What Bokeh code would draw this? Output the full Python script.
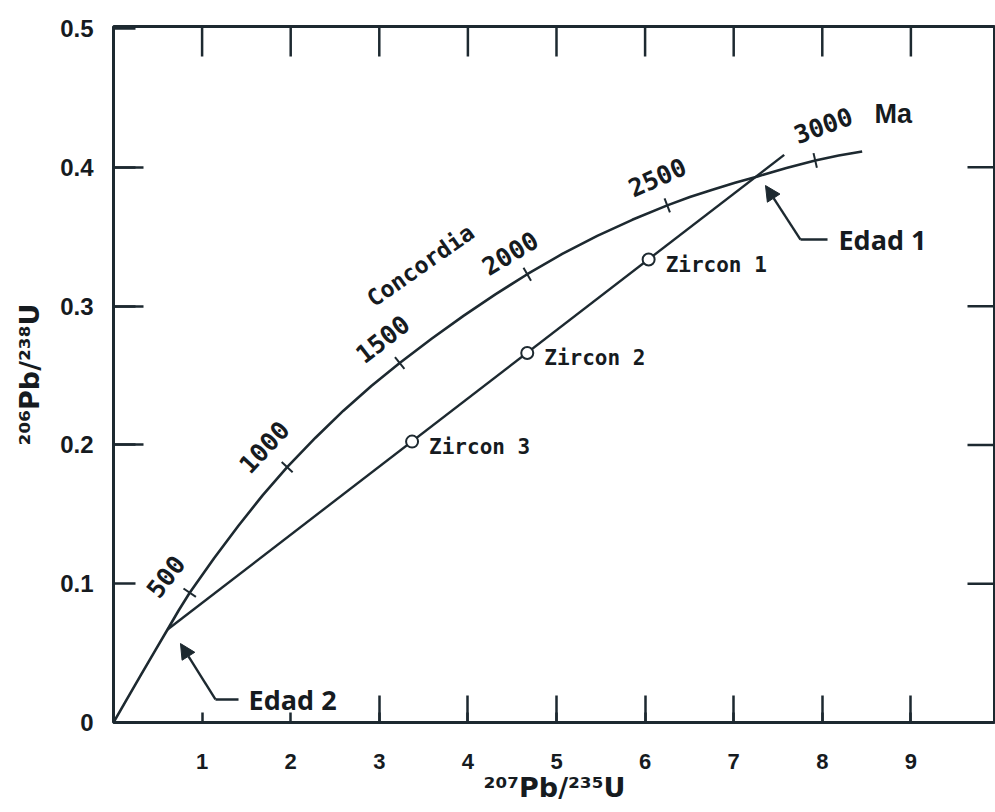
from bokeh.plotting import figure
from bokeh.models import LinearAxis, FixedTicker, Range1d, Arrow, NormalHead, ColumnDataSource
from bokeh.core.properties import value
from bokeh.embed import file_html
from bokeh.resources import INLINE

# ---------------- data ----------------
x_ticks = [1, 2, 3, 4, 5, 6, 7, 8, 9]
x_tick_labels = ["1", "2", "3", "4", "5", "6", "7", "8", "9"]
y_ticks = [0.0, 0.1, 0.2, 0.3, 0.4, 0.5]
y_tick_labels = ["0", "0.1", "0.2", "0.3", "0.4", "0.5"]

concordia_x = [0.0, 0.15, 0.305, 0.46, 0.61, 0.735, 0.86, 1.135, 1.41, 1.685,
               1.96, 2.28, 2.595, 2.91, 3.23, 3.59, 3.95, 4.31, 4.67, 5.065,
               5.46, 5.855, 6.25, 6.505, 6.76, 7.015, 7.27, 7.595, 7.92, 8.185, 8.45]
concordia_y = [0.0, 0.0167, 0.0338, 0.0507, 0.0670, 0.0807, 0.0935, 0.1183, 0.1418, 0.1638,
               0.1840, 0.2052, 0.2247, 0.2425, 0.2590, 0.2765, 0.2930, 0.3085, 0.3230, 0.3376,
               0.3506, 0.3622, 0.3726, 0.3786, 0.3839, 0.3889, 0.3935, 0.3996, 0.4050, 0.4085, 0.4115]

age_labels = ["500", "1000", "1500", "2000", "2500", "3000"]
age_x = [0.86, 1.96, 3.23, 4.67, 6.25, 7.92]
age_y = [0.0935, 0.184, 0.259, 0.323, 0.3726, 0.405]

zircon_names = ["Zircon 1", "Zircon 2", "Zircon 3"]
zircon_x = [6.04, 4.67, 3.37]
zircon_y = [0.3336, 0.2662, 0.2024]

edad_names = ["Edad 1", "Edad 2"]
edad_x = [7.27, 0.61]
edad_y = [0.3935, 0.0670]

discordia_end_x = 7.57
discordia_end_y = 0.409

# ---------------- styles / annotation layout ----------------
LINE = "#1d2930"
TEXT = "#161b1f"
X_END = 9.955
Y_END = 0.5015
tick_mark_angles = [146, 137, 129, 120, 111, 103]
age_label_angles = [52, 47, 38, 31, 24, 20]
age_dx = [-24, -23, -17, -17, -10, 8]
age_dy = [-16, -20, -24, -21, -28, -35]

p = figure(width=995, height=810, output_backend="svg", toolbar_location=None,
           x_range=Range1d(0, X_END), y_range=Range1d(0, Y_END),
           x_axis_location=None, y_axis_location=None,
           min_border_left=113, min_border_right=0, min_border_top=26, min_border_bottom=88)
p.grid.visible = False
p.outline_line_color = LINE
p.outline_line_width = 3
p.background_fill_color = "white"
p.border_fill_color = "white"

# bottom axis
xb = LinearAxis(ticker=FixedTicker(ticks=x_ticks, minor_ticks=x_ticks[2:]))
xb.major_label_overrides = {t: l for t, l in zip(x_ticks, x_tick_labels)}
xb.major_tick_in = 10
xb.major_tick_out = 0
xb.minor_tick_in = 27
xb.minor_tick_out = 0
xb.major_tick_line_width = 2.5
xb.minor_tick_line_width = 2.5
xb.major_tick_line_color = LINE
xb.minor_tick_line_color = LINE
xb.axis_line_color = None
xb.major_label_standoff = 31
xb.major_label_text_font = "Liberation Sans"
xb.major_label_text_font_style = "bold"
xb.major_label_text_font_size = "22px"
xb.major_label_text_color = TEXT
xb.axis_label = "²⁰⁷Pb/²³⁵U"
xb.axis_label_text_font = "DejaVu Sans"
xb.axis_label_text_font_style = "bold"
xb.axis_label_text_font_size = "27px"
xb.axis_label_text_color = TEXT
xb.axis_label_standoff = 0
p.add_layout(xb, "below")

# left axis
yl = LinearAxis(ticker=FixedTicker(ticks=y_ticks, minor_ticks=y_ticks[2:5]))
yl.major_label_overrides = {t: l for t, l in zip(y_ticks, y_tick_labels)}
yl.major_tick_in = 22
yl.major_tick_out = 0
yl.minor_tick_in = 30
yl.minor_tick_out = 0
yl.major_tick_line_width = 2.5
yl.minor_tick_line_width = 2.5
yl.major_tick_line_color = LINE
yl.minor_tick_line_color = LINE
yl.axis_line_color = None
yl.major_label_standoff = 20
yl.major_label_text_font = "Liberation Sans"
yl.major_label_text_font_style = "bold"
yl.major_label_text_font_size = "24px"
yl.major_label_text_color = TEXT
yl.axis_label = "²⁰⁶Pb/²³⁸U"
yl.axis_label_text_font = "DejaVu Sans"
yl.axis_label_text_font_style = "bold"
yl.axis_label_text_font_size = "27px"
yl.axis_label_text_color = TEXT
yl.axis_label_standoff = 12
p.add_layout(yl, "left")

# top and right inward ticks (centred dashes on the frame edge, clipped to the frame)
p.scatter(x_ticks, [Y_END] * len(x_ticks), marker="dash", size=60, angle=90, angle_units="deg",
          line_color=LINE, line_width=2.5)
p.scatter([X_END] * 4, y_ticks[1:5], marker="dash", size=56,
          line_color=LINE, line_width=2.5)

# concordia curve
p.line(concordia_x, concordia_y, line_color=LINE, line_width=2.6, line_join="round")

# discordia line from Edad 2 to beyond Edad 1
p.line([edad_x[1], discordia_end_x], [edad_y[1], discordia_end_y], line_color=LINE, line_width=2.4)

# age tick marks on the concordia
age_src = ColumnDataSource(dict(x=age_x, y=age_y, label=age_labels, ta=tick_mark_angles,
                                la=age_label_angles, dx=age_dx, dy=age_dy))
p.scatter("x", "y", source=age_src, marker="dash", size=15, angle="ta", angle_units="deg",
          line_color=LINE, line_width=2)
p.text("x", "y", text="label", source=age_src, angle="la", angle_units="deg",
       x_offset="dx", y_offset="dy", text_align="center", text_baseline="middle",
       text_font=value("DejaVu Sans Mono"), text_font_style="bold",
       text_font_size="25px", text_color=TEXT)

# "Ma" and "Concordia"
p.text([age_x[-1]], [age_y[-1]], text=["Ma"], x_offset=78, y_offset=-46,
       text_align="center", text_baseline="middle", text_font=value("Liberation Sans"),
       text_font_style="bold", text_font_size="27px", text_color=TEXT)
p.text([3.465], [0.3293], text=["Concordia"], angle=35, angle_units="deg",
       text_align="center", text_baseline="middle", text_font=value("DejaVu Sans Mono"),
       text_font_style="bold", text_font_size="23px", text_color=TEXT)

# zircon points
zsrc = ColumnDataSource(dict(x=zircon_x, y=zircon_y, name=zircon_names))
p.scatter("x", "y", source=zsrc, marker="circle", size=12, fill_color="white",
          line_color=LINE, line_width=2)
p.text("x", "y", text="name", source=zsrc, x_offset=17, y_offset=5,
       text_align="left", text_baseline="middle", text_font=value("DejaVu Sans Mono"),
       text_font_style="bold", text_font_size="21px", text_color=TEXT)

# Edad arrows and labels
arrow_tip_x = [7.359, 0.756]
arrow_tip_y = [0.3869, 0.0569]
arrow_elbow_x = [7.754, 1.151]
arrow_elbow_y = [0.3480, 0.0166]
arrow_tail_x = [8.059, 1.411]
for i in range(2):
    p.line([arrow_tail_x[i], arrow_elbow_x[i]], [arrow_elbow_y[i], arrow_elbow_y[i]],
           line_color=LINE, line_width=2.4)
    p.add_layout(Arrow(end=NormalHead(size=15, fill_color=LINE, line_color=LINE),
                       x_start=arrow_elbow_x[i], y_start=arrow_elbow_y[i],
                       x_end=arrow_tip_x[i], y_end=arrow_tip_y[i],
                       line_color=LINE, line_width=2.4))
p.text([arrow_tail_x[0] + 0.124, arrow_tail_x[1] + 0.113], arrow_elbow_y, text=edad_names,
       text_align="left", text_baseline="middle", text_font=value("Open Sans"),
       text_font_style="bold", text_font_size="27px", text_color=TEXT)

open("out.html", "w").write(file_html(p, INLINE))
